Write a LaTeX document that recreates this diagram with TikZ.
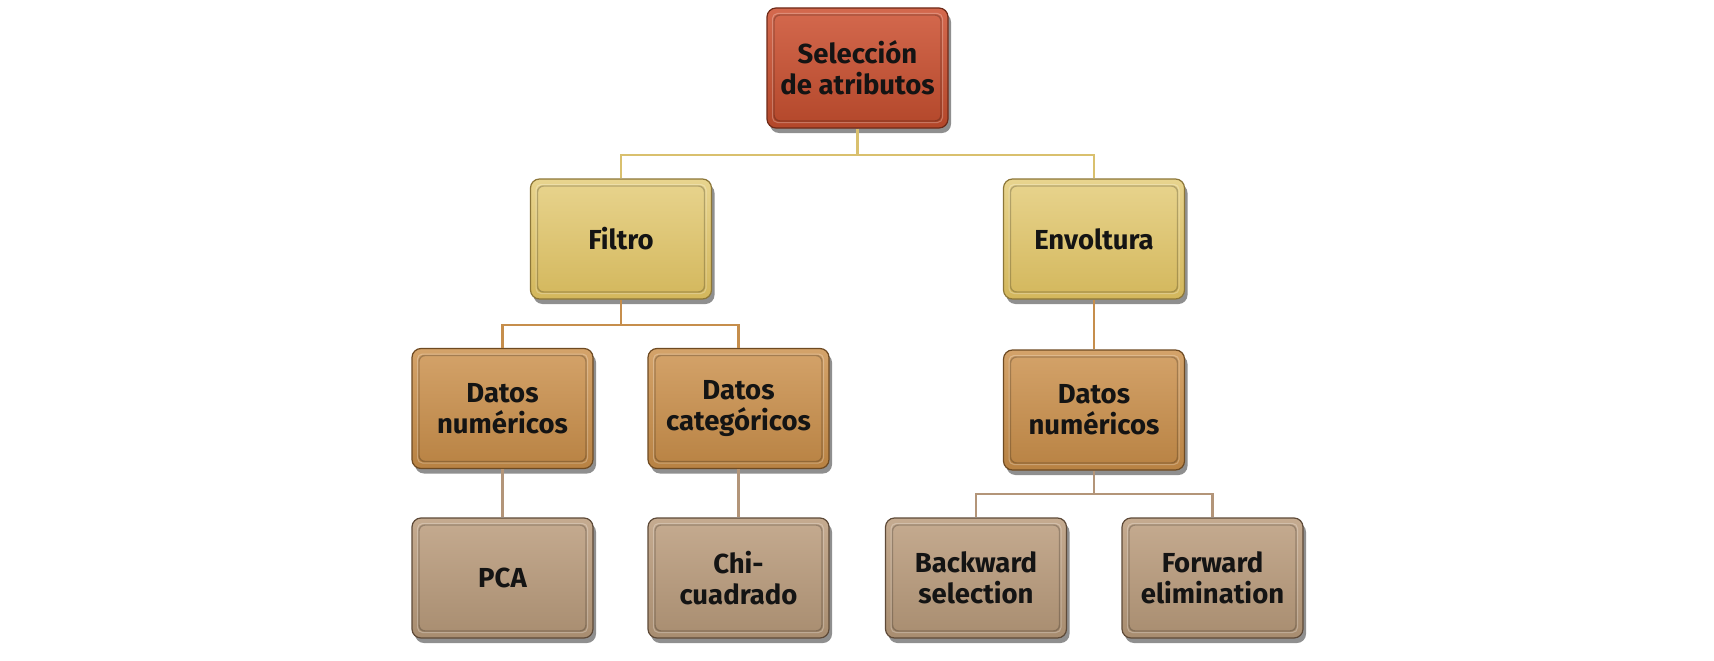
\documentclass[tikz,border=0pt]{standalone}
\usepackage{fontspec}
\setmainfont{Fira Sans}
\usetikzlibrary{shadows}
\definecolor{redT}{HTML}{D4694E}
\definecolor{redB}{HTML}{B3472A}
\definecolor{redD}{HTML}{6E2A18}
\definecolor{yelT}{HTML}{E8D48E}
\definecolor{yelB}{HTML}{D3B75C}
\definecolor{yelD}{HTML}{8C7638}
\definecolor{oraT}{HTML}{D4A36A}
\definecolor{oraB}{HTML}{B88243}
\definecolor{oraD}{HTML}{6E4A22}
\definecolor{tanT}{HTML}{C5AB90}
\definecolor{tanB}{HTML}{A88D70}
\definecolor{tanD}{HTML}{5E4A38}
\definecolor{lnGold}{HTML}{D9C06E}
\definecolor{lnOra}{HTML}{C68E4C}
\definecolor{lnTan}{HTML}{B39579}
\tikzset{
  box/.style={rectangle, rounded corners=9pt, minimum width=181pt, minimum height=120pt,
    inner sep=0pt, align=center, font=\bfseries\fontsize{27.5}{31}\selectfont, text=black!92,
    line width=1.2pt,
    drop shadow={shadow xshift=3pt, shadow yshift=-5pt, opacity=0.55, fill=black!80},
    path picture={\draw[black, opacity=0.22, line width=1.4pt, rounded corners=6pt]
      ([shift={(7pt,7pt)}]path picture bounding box.south west) rectangle
      ([shift={(-7pt,-7pt)}]path picture bounding box.north east);
      \draw[white, opacity=0.25, line width=1pt, rounded corners=5pt]
      ([shift={(5.5pt,5.5pt)}]path picture bounding box.south west) rectangle
      ([shift={(-5.5pt,-5.5pt)}]path picture bounding box.north east);}},
  redbox/.style={box, draw=redD, top color=redT, bottom color=redB},
  yelbox/.style={box, draw=yelD, top color=yelT, bottom color=yelB},
  orabox/.style={box, draw=oraD, top color=oraT, bottom color=oraB},
  tanbox/.style={box, draw=tanD, top color=tanT, bottom color=tanB},
  conn/.style={line width=2.6pt}
}
\begin{document}
\begin{tikzpicture}[x=1pt, y=-1pt]
\useasboundingbox (0,0) rectangle (1714,661);
\coordinate (j1) at (0,155);
\coordinate (j2) at (0,325);
\coordinate (j3) at (0,494);
\node[redbox] (top) at (857.5,68) {Selección\\de atributos};
\node[yelbox] (filtro) at (621,239) {Filtro};
\node[yelbox] (envol) at (1094,239) {Envoltura};
\node[orabox] (dn1) at (502.5,408.5) {Datos\\numéricos};
\node[orabox] (dc) at (738.5,408.5) {Datos\\categóricos};
\node[orabox] (dn2) at (1094,410) {Datos\\numéricos};
\node[tanbox] (pca) at (502.5,578) {PCA};
\node[tanbox] (chi) at (738.5,578) {Chi-\\cuadrado};
\node[tanbox] (back) at (976,578) {Backward\\selection};
\node[tanbox] (fwd) at (1212.5,578) {Forward\\elimination};
\draw[conn, lnGold] (top.south) -- (top.south |- j1);
\draw[conn, lnGold] (filtro.north) |- (top.south |- j1) -| (envol.north);
\draw[conn, lnOra] (filtro.south) -- (filtro.south |- j2);
\draw[conn, lnOra] (dn1.north) |- (filtro.south |- j2) -| (dc.north);
\draw[conn, lnOra] (envol.south) -- (dn2.north);
\draw[conn, lnTan] (dn1.south) -- (pca.north);
\draw[conn, lnTan] (dc.south) -- (chi.north);
\draw[conn, lnTan] (dn2.south) -- (dn2.south |- j3);
\draw[conn, lnTan] (back.north) |- (dn2.south |- j3) -| (fwd.north);
\end{tikzpicture}
\end{document}
